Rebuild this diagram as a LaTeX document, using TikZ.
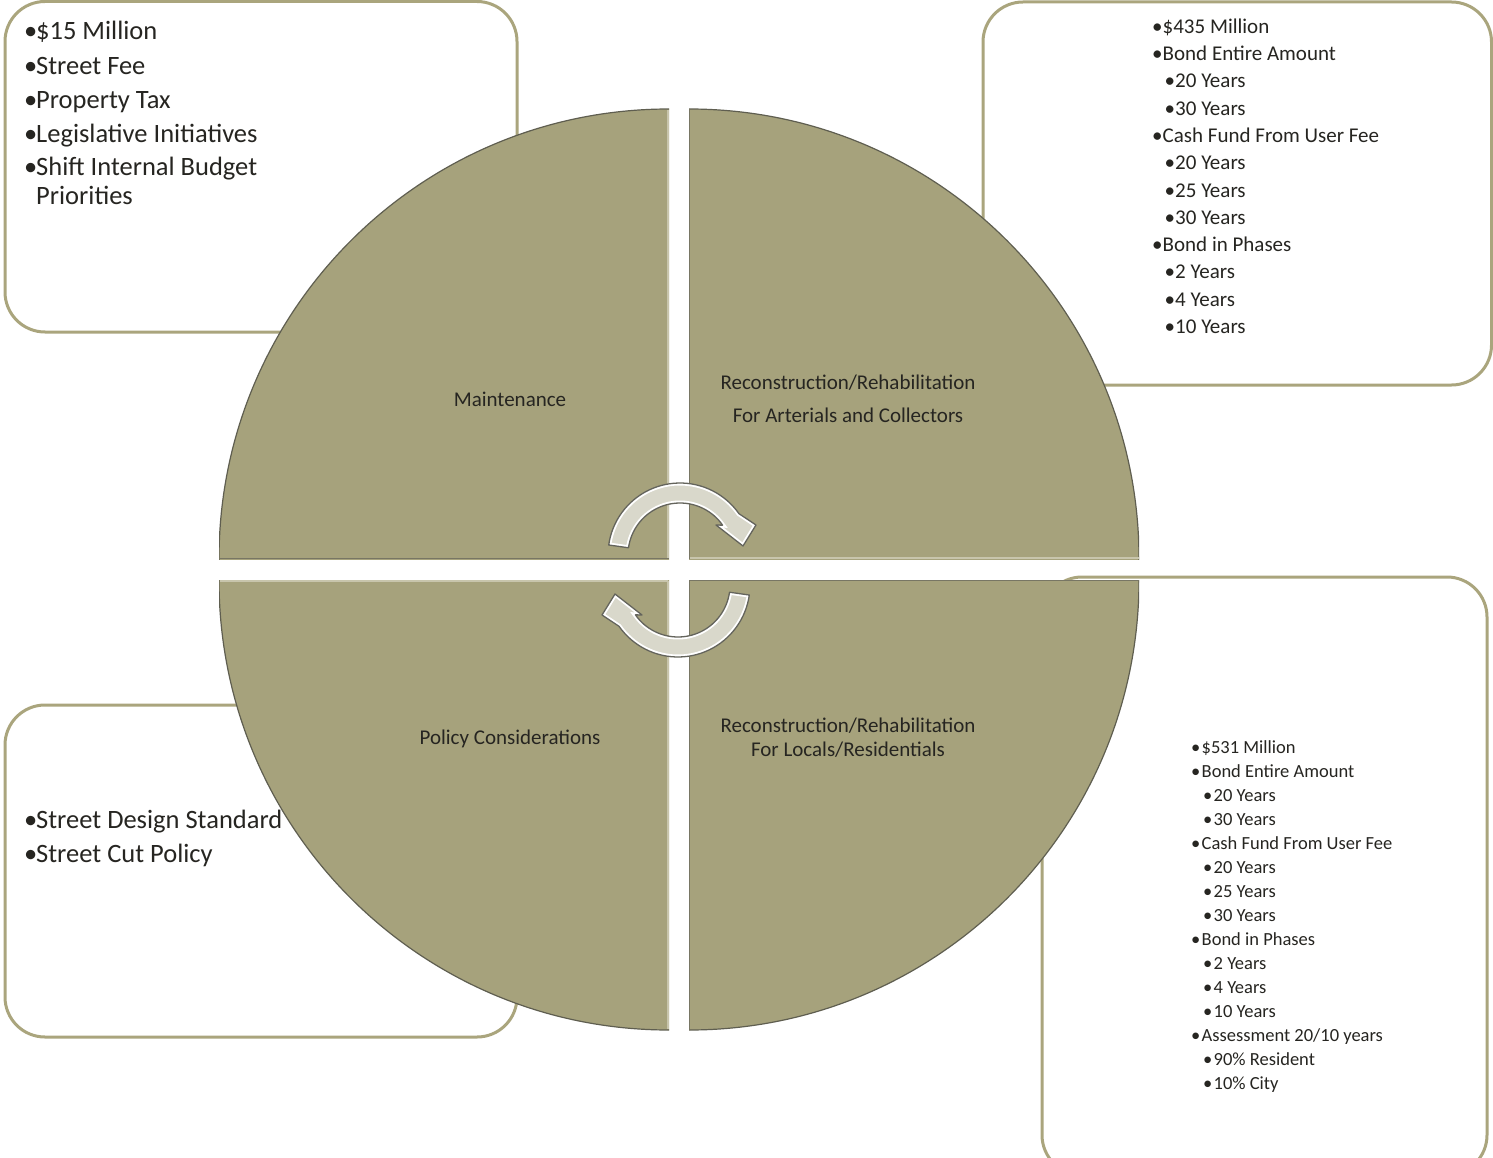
\documentclass[tikz,border=0pt]{standalone}
\usepackage{fontspec}
\setmainfont{Carlito}
\definecolor{khaki}{RGB}{166,162,124}
\definecolor{boxline}{RGB}{170,165,125}
\definecolor{rimc}{RGB}{95,94,80}
\definecolor{txt}{RGB}{38,37,33}
\definecolor{arrowfill}{RGB}{217,216,203}
\definecolor{arrowline}{RGB}{100,100,92}
\definecolor{bevellight}{RGB}{200,197,172}
\definecolor{beveldark}{RGB}{120,118,100}
\def\cyclearrowpath{plot[domain=188:325,samples=40] ({680+72*cos(\x)},{555+72*sin(\x)}) -- (756,525) -- (743,546) -- (716,525) -- plot[domain=325:188,samples=40] ({680+52*cos(\x)},{555+52*sin(\x)}) -- cycle}
\begin{document}
\begin{tikzpicture}[x=1pt,y=-1pt,
  infobox/.style={draw=boxline, line width=3pt, fill=white, rounded corners=40pt},
  quad/.style={fill=khaki},
  rim/.style={draw=rimc, line width=1.2pt},
  lightedge/.style={draw=bevellight, line width=1.5pt},
  darkedge/.style={draw=beveldark, line width=1pt},
  qlabel/.style={font=\fontsize{21}{24}\selectfont, text=txt, inner sep=0pt, anchor=base},
  libig/.style={font=\fontsize{26.5}{30}\selectfont, text=txt, inner sep=0pt, anchor=base west},
  limid/.style={font=\fontsize{21}{24}\selectfont, text=txt, inner sep=0pt, anchor=base west},
  lismall/.style={font=\fontsize{18.5}{22}\selectfont, text=txt, inner sep=0pt, anchor=base west},
  pics/cyclearrow/.style={code={
    \fill[arrowfill] \cyclearrowpath;
    \begin{scope}
      \clip \cyclearrowpath;
      \draw[white, line width=5pt] \cyclearrowpath;
    \end{scope}
    \draw[arrowline, line width=1.3pt, line join=round] \cyclearrowpath;
  }}]
\useasboundingbox (0,0) rectangle (1493,1158);
\clip (0,0) rectangle (1493,1158);
\fill[white] (0,0) rectangle (1493,1158);

% info boxes
\draw[infobox] (5,1.5) rectangle (517,332);
\draw[infobox] (983,2) rectangle (1491.5,385);
\draw[infobox] (5,705) rectangle (517,1037);
\draw[infobox] (1042,577) rectangle (1487,1175);

% quadrants
\begin{scope}
  \clip (219,109) rectangle (669,559);
  \fill[quad] (669,559) circle[radius=450];
  \draw[rim] (669,559) circle[radius=450];
\end{scope}
\begin{scope}
  \clip (689,109) rectangle (1139,559);
  \fill[quad] (689,559) circle[radius=450];
  \draw[rim] (689,559) circle[radius=450];
\end{scope}
\begin{scope}
  \clip (219,580) rectangle (669,1030);
  \fill[quad] (669,580) circle[radius=450];
  \draw[rim] (669,580) circle[radius=450];
\end{scope}
\begin{scope}
  \clip (689,580) rectangle (1139,1030);
  \fill[quad] (689,580) circle[radius=450];
  \draw[rim] (689,580) circle[radius=450];
\end{scope}

% bevel edges of the quadrants
\draw[lightedge] (668,110) -- (668,558);
\draw[darkedge] (220,558.5) -- (669,558.5);
\draw[darkedge] (689.5,110) -- (689.5,559);
\draw[lightedge] (690,558) -- (1139,558);
\draw[lightedge] (220,581) -- (668,581);
\draw[lightedge] (668,581) -- (668,1029);
\draw[darkedge] (689,580.5) -- (1139,580.5);
\draw[darkedge] (689.5,580) -- (689.5,1029);

% cycle arrows
\pic at (0,0) {cyclearrow};
\pic[rotate=180] at (1358,1140) {cyclearrow};

% quadrant labels
\node[qlabel] (maint) at (510,406) {Maintenance};
\node[qlabel] (artA) at (848,389) {Reconstruction/Rehabilitation};
\node[qlabel] (artB) at (848,422) {For Arterials and Collectors};
\node[qlabel] (policy) at (510,744) {Policy Considerations};
\node[qlabel] (locA) at (848,732) {Reconstruction/Rehabilitation};
\node[qlabel] (locB) at (848,756) {For Locals/Residentials};

% top-left list
\foreach \t/\yy [count=\i] in {{\$15 Million}/40, {Street Fee}/74.3, {Property Tax}/108.3, {Legislative Initiatives}/142.7, {Shift Internal Budget}/176}
  \node[libig] (tl\i) at (24,\yy) {\makebox[12pt][l]{•}\t};
\node[libig] (tl6) at (36,205) {Priorities};

% bottom-left list
\node[libig] (bl1) at (24,828) {\makebox[12pt][l]{•}Street Design Standard};
\node[libig] (bl2) at (24,862.7) {\makebox[12pt][l]{•}Street Cut Policy};

% top-right list
\foreach \t/\l [count=\i from 0] in {{\$435 Million}/0, {Bond Entire Amount}/0, {20 Years}/1, {30 Years}/1, {Cash Fund From User Fee}/0, {20 Years}/1, {25 Years}/1, {30 Years}/1, {Bond in Phases}/0, {2 Years}/1, {4 Years}/1, {10 Years}/1}
  \node[limid] (tr\i) at ({1152+12.5*\l},{33.3+27.3*\i}) {\makebox[10.5pt][l]{•}\t};

% bottom-right list
\foreach \t/\l [count=\i from 0] in {{\$531 Million}/0, {Bond Entire Amount}/0, {20 Years}/1, {30 Years}/1, {Cash Fund From User Fee}/0, {20 Years}/1, {25 Years}/1, {30 Years}/1, {Bond in Phases}/0, {2 Years}/1, {4 Years}/1, {10 Years}/1, {Assessment 20/10 years}/0, {90\% Resident}/1, {10\% City}/1}
  \node[lismall] (br\i) at ({1191+12*\l},{753.7+23.95*\i}) {\makebox[10.5pt][l]{•}\t};
\end{tikzpicture}
\end{document}
